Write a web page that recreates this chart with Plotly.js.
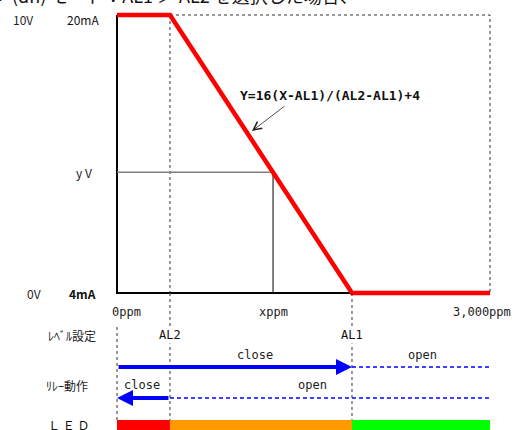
<!DOCTYPE html>
<html><head><meta charset="utf-8">
<script src="https://cdn.plot.ly/plotly-3.0.1.min.js"></script>
<style>html,body{margin:0;padding:0;background:#fff;overflow:hidden}</style>
</head><body><div id="c" style="width:518px;height:430px"></div>
<script>
// ---- data ----
const xMax = 3000;              // ppm, full scale
const AL2 = 426;                // ppm
const AL1 = 1890;               // ppm
const xSample = 1255;           // "x ppm"
const ySample = 10.95;          // mA at x ppm ("y V")
const outX = [0, AL2, AL1, xMax];   // output curve, ppm
const outY = [20, 20, 4, 4];        // output curve, mA
const xTickVals = [0, xSample, xMax];
const xTickText = ['0ppm', 'xppm', '3,000ppm'];
const vLabels = ['10V', 'y V', '0V'];
const mALabels = ['20mA', '', '4mA'];
const mAVals = [20, ySample, 4];
const alNames = ['AL2', 'AL1'];
const alVals = [AL2, AL1];
const ledStart = [0, AL2, AL1];
const ledEnd = [AL2, AL1, xMax];
const ledColor = ['#ff0000', '#ff9900', '#00ff00'];
const equation = 'Y=16(X-AL1)/(AL2-AL1)+4';

// ---- geometry (layout only) ----
const W = 518, H = 430;
const px0 = 117, px1 = 490, py20 = 15, py4 = 293;
const kx = xMax / (px1 - px0);
const ky = 16 / (py4 - py20);
const px2x = p => (p - px0) * kx;
const py2mA = p => 4 + (py4 - p) * ky;
const row = {tick: 312, al: 335, t1: 355, a1: 367, t2: 385, a2: 398, led: 425};

const mono = 'DejaVu Sans Mono, monospace';
const jp = 'Noto Sans CJK JP, sans-serif';
const dashC = '#333';

const traces = [];
// frame
traces.push({x: [0, 0, xMax], y: [20, 4, 4], mode: 'lines', line: {color: '#000', width: 2}, yaxis: 'y'});
// dashed frame top/right and AL2 upper
traces.push({x: [AL2, xMax, xMax, null, AL2, AL2], y: [20, 20, 4, null, 20, 4], mode: 'lines',
  line: {color: dashC, width: 1, dash: '3px,3px'}, yaxis: 'y'});
// sample lines
traces.push({x: [0, xSample], y: [ySample, ySample], mode: 'lines', line: {color: '#808080', width: 1.5}, yaxis: 'y'});
traces.push({x: [xSample, xSample], y: [ySample, 4], mode: 'lines', line: {color: '#000', width: 1}, yaxis: 'y'});
// lower dashed verticals
traces.push({x: [0, 0, null, AL2, AL2, null, AL1, AL1], y: [327, 420, null, py4, 420, null, py4, 420], mode: 'lines',
  line: {color: dashC, width: 1, dash: '3px,3px'}, yaxis: 'y2'});
// blue dashed (open ranges)
traces.push({x: [AL1, xMax, null, AL2, xMax], y: [row.a1, row.a1, null, row.a2, row.a2], mode: 'lines',
  line: {color: '#0000ff', width: 1.5, dash: '4px,3px'}, yaxis: 'y2'});
// LED bars
for (let i = 0; i < ledStart.length; i++) {
  traces.push({type: 'bar', orientation: 'h', yaxis: 'y2', y: [row.led], x: [ledEnd[i] - ledStart[i]], base: [ledStart[i]],
    width: [10], marker: {color: ledColor[i], line: {width: 0}}});
}
// output curve
traces.push({x: outX, y: outY, mode: 'lines', line: {color: '#ff0000', width: 4.5}, yaxis: 'y'});

const ann = [];
const txt = (text, xp, yp, opt = {}) => ann.push(Object.assign({
  text, x: px2x(xp), y: yp, xref: 'x', yref: 'y2', showarrow: false,
  font: {family: mono, size: 12, color: '#222'}, xanchor: 'center', yanchor: 'middle'}, opt));

// title (clipped at top)
txt('ダウン', 11, 10, {xanchor: 'right', yanchor: 'bottom', font: {family: jp, size: 18, color: '#111'}});
txt('(dn) モード：AL1 ＞ AL2 を選択した場合、', 10, 10, {xanchor: 'left', yanchor: 'bottom', font: {family: jp, size: 18, color: '#111'}});

// left value labels
const vX = [23, 84, 34], mAX = [83, 0, 82], vDy = [4, 0, 0];
for (let i = 0; i < vLabels.length; i++) {
  const yp = py4 - (mAVals[i] - 4) / ky + vDy[i];
  txt(vLabels[i], vX[i], yp, {font: {family: jp, size: 12, color: '#222'}});
  if (mALabels[i]) txt(mALabels[i], mAX[i], yp, {font: {family: jp, size: 12, color: '#111', weight: i === 2 ? 'bold' : 'normal'}});
}
// x tick labels
const tickShift = [9, 0, -8];
for (let i = 0; i < xTickVals.length; i++) {
  ann.push({text: xTickText[i], x: xTickVals[i], y: row.tick, xref: 'x', yref: 'y2', showarrow: false, xshift: tickShift[i],
    font: {family: mono, size: 12, color: '#222'}});
}
// AL labels
for (let i = 0; i < alNames.length; i++) {
  ann.push({text: alNames[i], x: alVals[i], y: row.al, xref: 'x', yref: 'y2', showarrow: false, bgcolor: '#fff',
    font: {family: mono, size: 12, color: '#111'}});
}
// row labels
txt('ﾚﾍﾞﾙ設定', 72, row.al, {font: {family: jp, size: 12, color: '#222'}});
txt('ﾘﾚｰ動作', 67, row.t2, {font: {family: jp, size: 12, color: '#222'}});
txt('Ｌ Ｅ Ｄ', 68, 424, {font: {family: jp, size: 12, color: '#111'}});
txt('close', 255, row.t1);
txt('open', 422, row.t1);
txt('close', 142, row.t2);
txt('open', 312, row.t2);
// equation
txt(equation, 330, 95, {font: {family: mono, size: 13, color: '#111', weight: 'bold'}});
ann.push({text: '', x: px2x(252), y: py2mA(131), ax: px2x(286), ay: py2mA(105), xref: 'x', yref: 'y', axref: 'x', ayref: 'y',
  showarrow: true, arrowhead: 5, arrowsize: 2, arrowwidth: 0.8, arrowcolor: '#222'});
// blue arrows
ann.push({text: '', x: AL1, y: row.a1, ax: 0, ay: row.a1, xref: 'x', yref: 'y2', axref: 'x', ayref: 'y2',
  showarrow: true, arrowhead: 2, arrowsize: 0.8, arrowwidth: 4, arrowcolor: '#0000ff'});
ann.push({text: '', x: 0, y: row.a2, ax: AL2, ay: row.a2, xref: 'x', yref: 'y2', axref: 'x', ayref: 'y2',
  showarrow: true, arrowhead: 2, arrowsize: 0.8, arrowwidth: 4, arrowcolor: '#0000ff'});

const hidden = {visible: false, fixedrange: true, showgrid: false, zeroline: false};
const layout = {
  width: W, height: H, margin: {l: 0, r: 0, t: 0, b: 0}, showlegend: false,
  paper_bgcolor: '#fff', plot_bgcolor: '#fff', barmode: 'overlay',
  xaxis: Object.assign({range: [px2x(0), px2x(W)]}, hidden),
  yaxis: Object.assign({range: [py2mA(H), py2mA(0)]}, hidden),
  yaxis2: Object.assign({range: [H, 0], overlaying: 'y'}, hidden),
  annotations: ann
};
Plotly.newPlot('c', traces, layout, {staticPlot: true, displayModeBar: false});
</script></body></html>
